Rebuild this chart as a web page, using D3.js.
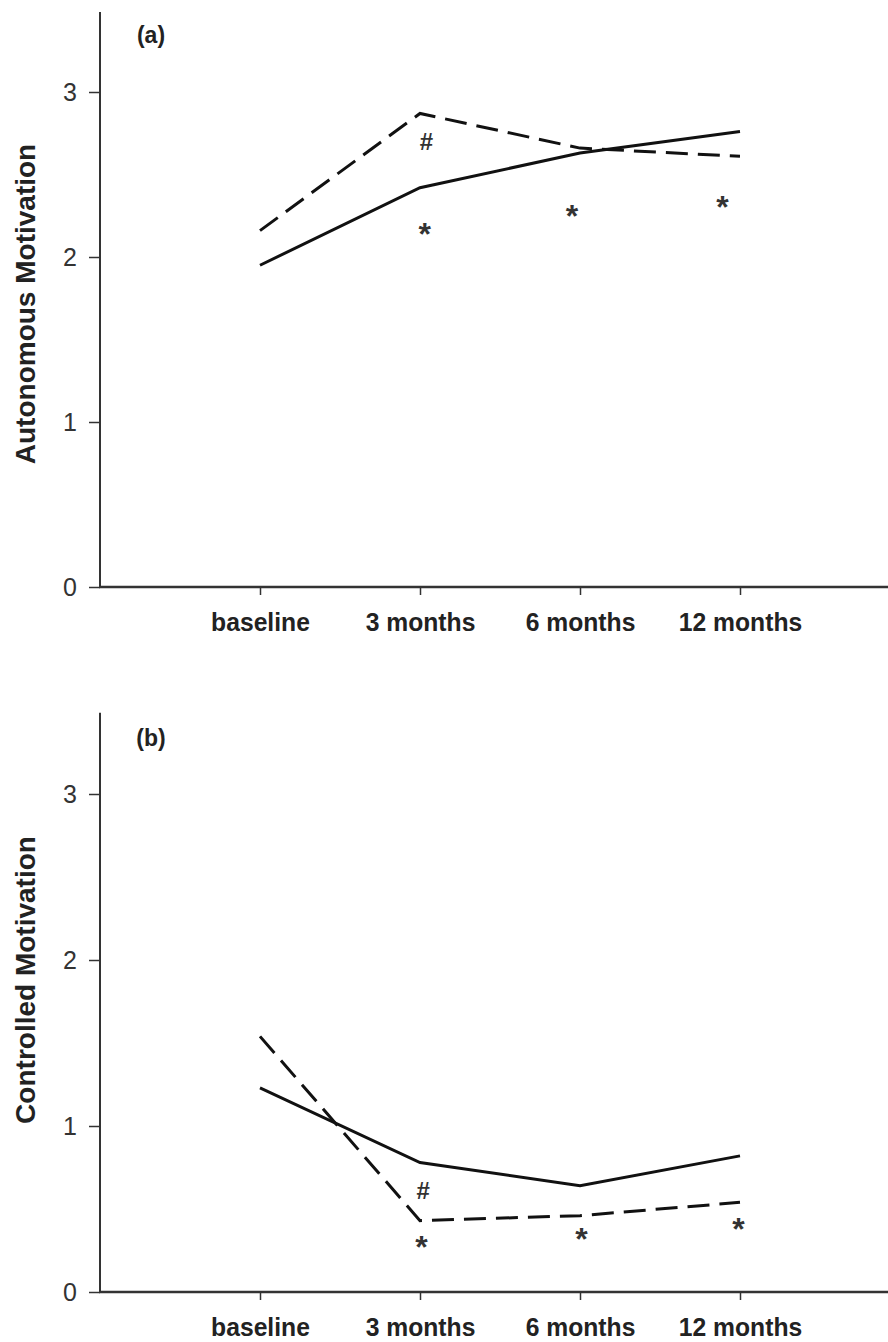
<!DOCTYPE html>
<html>
<head>
<meta charset="utf-8">
<script src="https://cdn.jsdelivr.net/npm/d3@7"></script>
<style>
  body { margin: 0; background: #fff; }
  svg { display: block; font-family: "Liberation Sans", Arial, sans-serif; }
</style>
</head>
<body>
<svg id="chart" width="888" height="1342"></svg>
<script>
// time points on the x axis
var timepoints = ["baseline", "3 months", "6 months", "12 months"];

// (a) autonomous motivation
var autoSolid  = [1.95, 2.42, 2.63, 2.76];
var autoDashed = [2.16, 2.87, 2.66, 2.61];
// (b) controlled motivation
var ctrlSolid  = [1.23, 0.78, 0.64, 0.82];
var ctrlDashed = [1.54, 0.43, 0.46, 0.54];

// significance marks: [time index, value, symbol]
var autoMarks = [[1.04, 2.70, "#"], [1.03, 2.19, "*"], [1.95, 2.30, "*"], [2.89, 2.35, "*"]];
var ctrlMarks = [[1.02, 0.61, "#"], [1.01, 0.32, "*"], [2.01, 0.37, "*"], [2.99, 0.43, "*"]];

var yTicks = [0, 1, 2, 3];

var svg = d3.select("#chart");

var x = d3.scaleLinear().domain([-1, 4]).range([100, 900]);

function panel(cfg) {
  var y = d3.scaleLinear().domain([0, 3]).range([cfg.y0, cfg.y3]);
  var g = svg.append("g");

  // y axis
  var yAxis = d3.axisLeft(y).tickValues(yTicks).tickSize(11).tickPadding(12)
    .tickFormat(d3.format("d")).tickSizeOuter(0);
  var ya = g.append("g").attr("transform", "translate(100,0)").call(yAxis);
  ya.select(".domain").remove();
  ya.selectAll("line").attr("stroke", "#333").attr("stroke-width", 1.5);
  ya.selectAll("text").style("font-size", "25px").attr("fill", "#333");
  g.append("line")
    .attr("x1", 100).attr("x2", 100)
    .attr("y1", y(0)).attr("y2", y(cfg.yMax))
    .attr("stroke", "#333").attr("stroke-width", 2);

  // x axis
  var xAxis = d3.axisBottom(x).tickValues([0, 1, 2, 3]).tickSize(8).tickPadding(18)
    .tickFormat(function(d) { return timepoints[d]; }).tickSizeOuter(0);
  var xa = g.append("g").attr("transform", "translate(0," + y(0) + ")").call(xAxis);
  xa.select(".domain").remove();
  xa.selectAll("line").attr("stroke", "#333").attr("stroke-width", 1.5);
  xa.selectAll("text")
    .attr("transform", "scale(0.95,1)")
    .style("font-size", "26px").style("font-weight", "bold").attr("fill", "#222");
  g.append("line")
    .attr("x1", 99).attr("x2", 900)
    .attr("y1", y(0)).attr("y2", y(0))
    .attr("stroke", "#333").attr("stroke-width", 2.5);

  // y label
  g.append("text")
    .attr("transform", "translate(35," + cfg.labelY + ") rotate(-90)")
    .attr("text-anchor", "middle")
    .style("font-size", "28px").style("font-weight", "bold").attr("fill", "#222")
    .text(cfg.label);

  // panel letter
  g.append("text")
    .attr("x", 151).attr("y", cfg.letterY)
    .attr("text-anchor", "middle")
    .style("font-size", "23px").style("font-weight", "bold").attr("fill", "#222")
    .text(cfg.letter);

  var line = d3.line()
    .x(function(d, i) { return x(i); })
    .y(function(d) { return y(d); });

  g.append("path").datum(cfg.solid)
    .attr("d", line).attr("fill", "none")
    .attr("stroke", "#111").attr("stroke-width", 3);
  g.append("path").datum(cfg.dashed)
    .attr("d", line).attr("fill", "none")
    .attr("stroke", "#111").attr("stroke-width", 3)
    .attr("stroke-dasharray", "22,10");

  g.selectAll(".mark").data(cfg.marks).enter().append("text")
    .attr("x", function(d) { return x(d[0]); })
    .attr("y", function(d) { return y(d[1]); })
    .attr("dy", function(d) { return d[2] == "*" ? "0.6em" : "0.36em"; })
    .attr("text-anchor", "middle")
    .style("font-size", function(d) { return d[2] == "*" ? "32px" : "24px"; })
    .style("font-weight", "bold")
    .attr("fill", "#333")
    .text(function(d) { return d[2]; });
}

panel({ y0: 587, y3: 92, yMax: 3.485, solid: autoSolid, dashed: autoDashed, marks: autoMarks,
        label: "Autonomous Motivation", labelY: 304, letter: "(a)", letterY: 43 });
panel({ y0: 1292, y3: 794, yMax: 3.49, solid: ctrlSolid, dashed: ctrlDashed, marks: ctrlMarks,
        label: "Controlled Motivation", labelY: 980, letter: "(b)", letterY: 746 });
</script>
</body>
</html>
